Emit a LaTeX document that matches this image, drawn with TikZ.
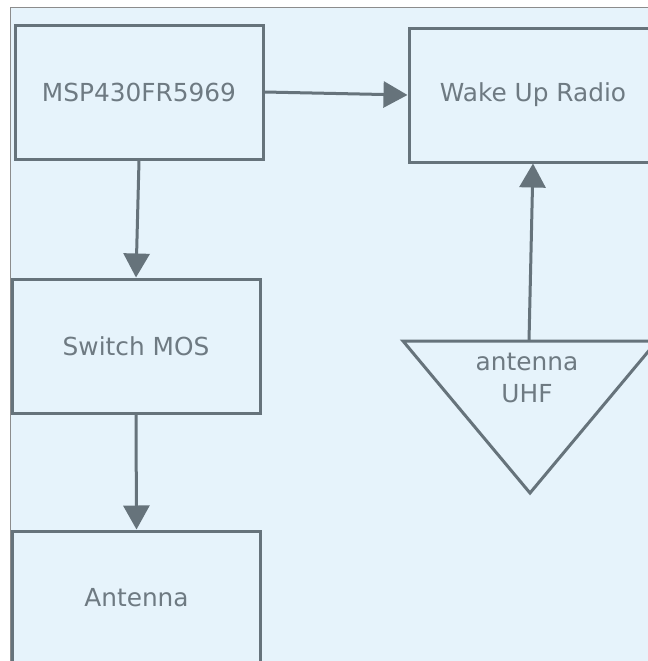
\documentclass[tikz,border=0pt]{standalone}
\usepackage{fontspec}
\setmainfont{DejaVu Sans}
\usetikzlibrary{arrows.meta}
\definecolor{bgblue}{RGB}{230,243,251}
\definecolor{linegray}{RGB}{102,115,123}
\definecolor{textgray}{RGB}{110,122,130}
\definecolor{framegray}{RGB}{140,140,140}
\begin{document}
\begin{tikzpicture}[x=0.75pt,y=0.75pt,yscale=-1,xscale=1,
	block/.style={draw=linegray, line width=2.25pt, minimum width=186pt, minimum height=100.5pt, inner sep=0pt, text=textgray, font=\fontsize{18.6}{24}\selectfont},
	link/.style={draw=linegray, line width=2.25pt, -{Triangle[length=18pt,width=19.5pt]}}]
			\useasboundingbox (0,0) rectangle (648,661);
			\clip (0,0) rectangle (648,661);
			
			%Background
			\fill [bgblue] (10,7) rectangle (660,670);
			\draw [framegray, line width=0.75pt] (10,670) -- (10,7) -- (660,7);
			
			% Blocks
			\node [block] (msp) at (139,92) {MSP430FR5969};
			\node [block] (wur) at (533,95) {Wake Up Radio};
			\node [block] (sw) at (136,346) {Switch MOS};
			\node [block] (ant) at (136.5,598) {Antenna};
			
			%Triangle
			\draw [linegray, line width=2.25pt] (403,341) -- (657,341) -- (530,493) -- cycle;
			\coordinate (uhftop) at (529,341);
			% Text Node
			\node [text=textgray, align=center, font=\fontsize{18.6}{24}\selectfont] (uhf) at (527,378) {antenna\\UHF};
			
			% Links
			\draw [link] (msp.east) -- (wur.west);
			\draw [link] (msp.south) -- (sw.north);
			\draw [link] (sw.south) -- (ant.north);
			\draw [link] (uhftop) -- (wur.south);
			
		\end{tikzpicture}
\end{document}
